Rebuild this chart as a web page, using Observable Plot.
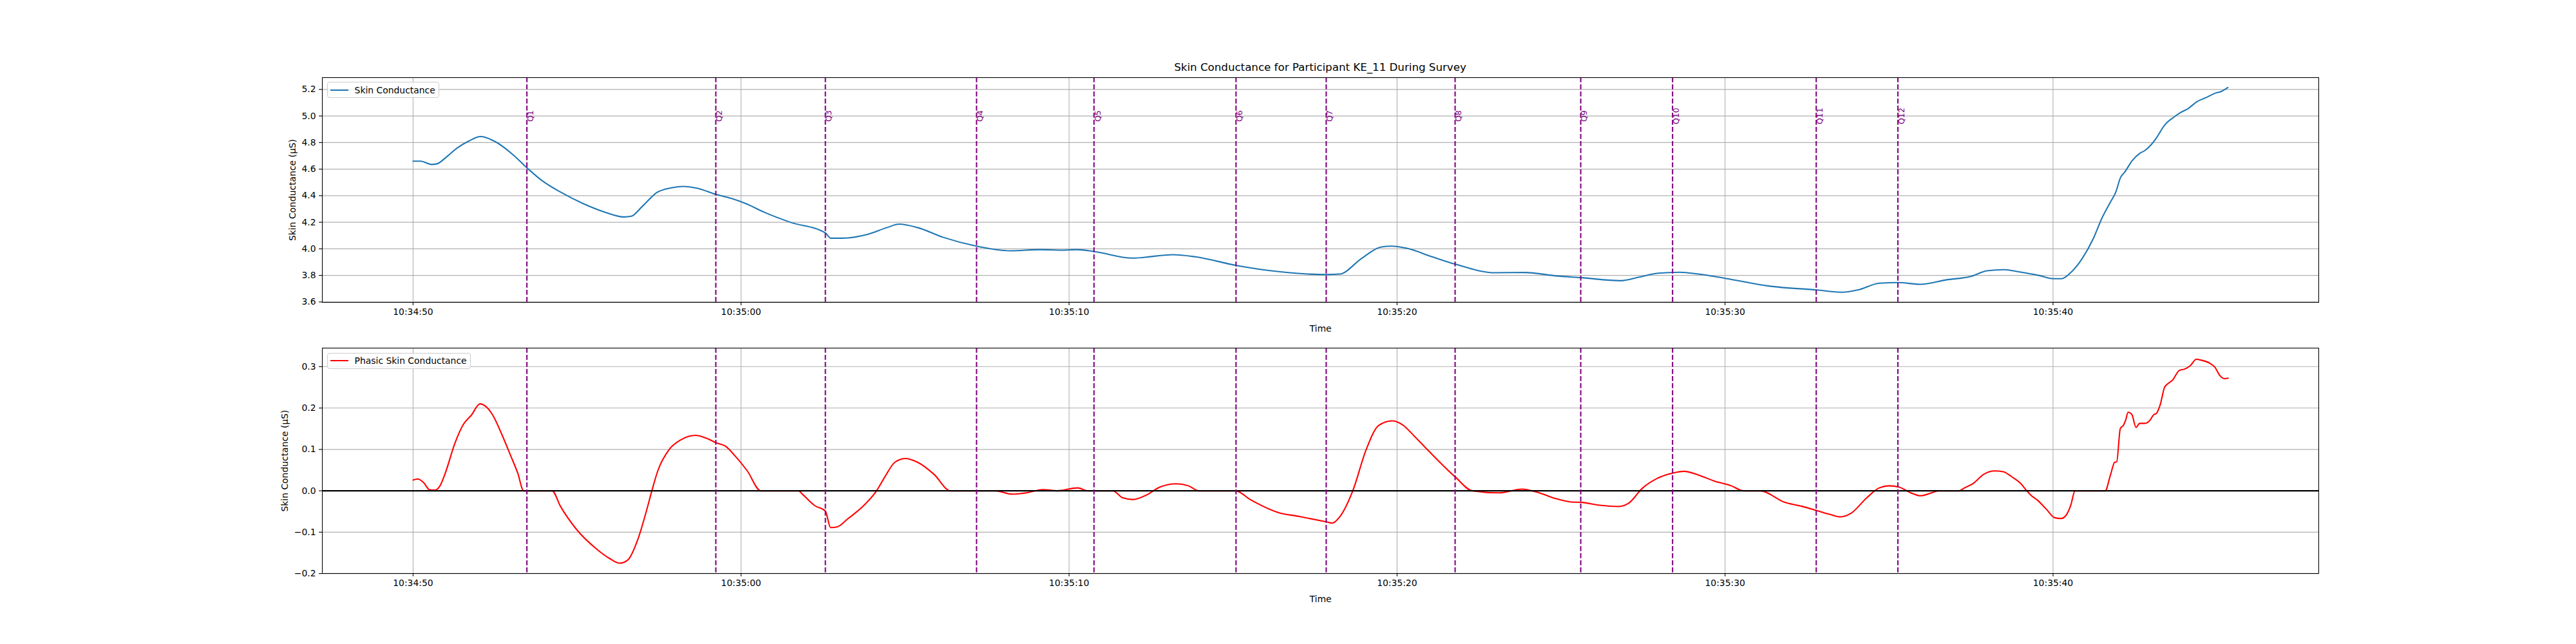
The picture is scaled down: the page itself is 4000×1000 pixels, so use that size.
<!DOCTYPE html>
<html>
<head>
<meta charset="utf-8">
<script src="https://cdn.jsdelivr.net/npm/d3@7"></script>
<script src="https://cdn.jsdelivr.net/npm/@observablehq/plot@0.6"></script>
<style>
  html, body { margin: 0; padding: 0; background: #fff; }
  #page { position: relative; width: 4000px; height: 1000px; font-family: "DejaVu Sans", sans-serif; color: #000; overflow: hidden; }
  .title { position: absolute; left: 500px; width: 3100px; top: 95px; text-align: center; font-size: 16.67px; line-height: normal; white-space: nowrap; }
  .chart { position: absolute; left: 0; }
  .legend { position: absolute; left: 507.6px; height: 25px; border: 1.1px solid #cccccc; border-radius: 4px;
            background: rgba(255,255,255,0.8); box-sizing: border-box; display: flex; align-items: center;
            font-size: 13.9px; white-space: nowrap; }
  .legend .swatch { display: inline-block; width: 28px; height: 2.1px; margin-left: 4px; margin-right: 10px; }
</style>
</head>
<body>
<div id="page">
  <div class="title">Skin Conductance for Participant KE_11 During Survey</div>
  <div class="chart" id="top" style="top:0px"></div>
  <div class="chart" id="bottom" style="top:520px"></div>
  <div class="legend" style="top:127.3px;width:174.4px"><span class="swatch" style="background:#1f77b4"></span>Skin Conductance</div>
  <div class="legend" style="top:547.5px;width:223.4px"><span class="swatch" style="background:red"></span>Phasic Skin Conductance</div>
</div>
<script>
// ---- Data (seconds after 10:34:50) ----
const scSeconds = [0.00,0.23,0.56,0.73,1.01,1.35,1.69,2.06,2.48,3.04,3.47,3.95,4.51,5.19,5.86,6.43,6.65,6.99,7.44,7.89,8.23,8.68,9.23,9.70,10.15,10.71,11.50,12.57,12.74,13.08,13.87,14.45,14.82,15.38,16.17,17.18,18.21,19.11,19.79,20.24,20.76,21.93,23.17,23.85,25.10,26.44,27.86,28.25,28.93,29.50,29.84,30.28,31.07,31.78,32.99,33.89,34.90,35.60,36.82,37.38,37.95,38.62,39.19,40.00,41.33,42.80,43.59,44.04,44.71,45.29,45.95,46.74,47.53,47.98,48.51,48.95,49.56,50.00,50.26,50.53,50.88,51.23,51.49,51.75,51.91,52.06,52.19,52.41,52.65,52.80,52.98,53.16,53.40,53.68,53.90,54.12,54.38,54.65,54.95,55.13,55.33];
const scValues = [4.66,4.66,4.635,4.64,4.69,4.76,4.81,4.845,4.81,4.71,4.61,4.51,4.425,4.34,4.275,4.24,4.245,4.32,4.425,4.46,4.47,4.455,4.41,4.38,4.34,4.275,4.20,4.12,4.08,4.08,4.11,4.16,4.186,4.16,4.086,4.02,3.985,3.994,3.99,3.994,3.98,3.93,3.956,3.94,3.875,3.827,3.806,3.81,3.93,4.013,4.02,4.005,3.94,3.884,3.82,3.822,3.795,3.783,3.76,3.787,3.816,3.824,3.81,3.778,3.72,3.69,3.673,3.69,3.741,3.746,3.733,3.766,3.795,3.835,3.843,3.827,3.80,3.775,3.775,3.819,3.924,4.078,4.231,4.352,4.425,4.538,4.579,4.663,4.72,4.74,4.781,4.838,4.931,4.991,5.028,5.056,5.107,5.137,5.172,5.185,5.214];

const phasicSeconds = [0.00,0.14,0.32,0.50,0.67,0.82,0.97,1.28,1.53,1.78,2.04,2.23,2.45,2.68,2.98,3.19,3.37,4.24,4.49,4.99,5.60,6.00,6.30,6.55,6.85,7.11,7.28,7.46,7.81,8.16,8.61,8.91,9.24,9.52,9.82,10.19,10.60,11.75,11.88,12.25,12.57,12.73,12.94,13.25,13.75,14.13,14.38,14.69,15.01,15.38,15.88,16.38,17.76,18.26,18.76,19.20,19.64,20.26,20.58,21.33,21.64,21.95,22.39,22.77,23.27,23.64,23.95,25.08,25.52,26.40,27.02,27.84,28.02,28.27,28.65,29.06,29.44,29.85,30.16,30.54,30.98,31.78,32.29,33.11,33.80,34.30,34.80,35.30,35.63,36.18,36.74,37.06,37.49,37.93,38.42,38.75,39.19,39.69,40.19,40.56,41.07,41.82,42.32,42.81,43.20,43.51,43.83,44.32,44.70,45.01,45.30,45.64,45.95,46.33,46.51,47.14,47.30,47.57,47.89,48.22,48.48,48.74,49.01,49.20,49.33,49.53,49.79,50.05,50.25,50.38,50.54,50.67,51.59,51.75,51.88,51.94,52.05,52.15,52.21,52.29,52.40,52.53,52.64,52.80,52.95,53.06,53.16,53.26,53.40,53.49,53.65,53.85,54.01,54.18,54.37,54.50,54.76,54.93,55.09,55.22,55.34];
const phasicValues = [0.026,0.0285,0.02,0.0026,0.0015,0.012,0.04,0.116,0.16,0.183,0.21,0.203,0.18,0.141,0.084,0.043,0.0,0.0,-0.037,-0.094,-0.141,-0.164,-0.175,-0.167,-0.118,-0.05,0.0,0.048,0.10,0.123,0.134,0.128,0.116,0.108,0.084,0.048,0.0,0.0,-0.009,-0.036,-0.049,-0.089,-0.087,-0.068,-0.035,0.0,0.033,0.069,0.078,0.069,0.040,0.0,0.0,-0.008,-0.004,0.003,0.0,0.007,0.0,0.0,-0.017,-0.021,-0.009,0.009,0.017,0.012,0.0,0.0,-0.021,-0.053,-0.062,-0.075,-0.078,-0.061,0.0,0.100,0.158,0.169,0.16,0.131,0.095,0.033,0.0,-0.005,0.004,-0.004,-0.018,-0.027,-0.028,-0.035,-0.038,-0.030,0.007,0.030,0.043,0.047,0.038,0.023,0.012,0.0,0.0,-0.028,-0.037,-0.048,-0.057,-0.063,-0.055,-0.017,0.007,0.012,0.009,-0.004,-0.012,-0.004,0.0,0.0,0.007,0.018,0.040,0.048,0.046,0.034,0.018,0.0,-0.011,-0.023,-0.044,-0.065,-0.067,-0.061,-0.035,0.0,0.0,0.038,0.069,0.07,0.15,0.159,0.17,0.19,0.185,0.153,0.163,0.163,0.17,0.183,0.188,0.206,0.25,0.258,0.268,0.291,0.294,0.302,0.318,0.316,0.309,0.299,0.278,0.271,0.272];

const questionLabels = ["Q1","Q2","Q3","Q4","Q5","Q6","Q7","Q8","Q9","Q10","Q11","Q12"];
const questionSeconds = [3.47,9.23,12.57,17.18,20.76,25.09,27.84,31.77,35.60,38.40,42.78,45.27];

const xTickSeconds = [0,10,20,30,40,50];
const scTicks = [3.6,3.8,4.0,4.2,4.4,4.6,4.8,5.0,5.2];
const phasicTicks = [-0.2,-0.1,0.0,0.1,0.2,0.3];

// ---- Build ----
const BASE = Date.UTC(2024, 0, 1, 10, 34, 50);
const toDate = s => new Date(BASE + s * 1000);
const scData = scSeconds.map((s, i) => ({time: toDate(s), value: scValues[i]}));
const phasicData = phasicSeconds.map((s, i) => ({time: toDate(s), value: phasicValues[i]}));
const questions = questionSeconds.map((s, i) => ({time: toDate(s), label: questionLabels[i]}));
const xTicks = xTickSeconds.map(toDate);
const xDomain = [toDate(-2.767), toDate(58.10)];
const fmtTime = d3.utcFormat("%H:%M:%S");
const fmtY = d3.format(".1f");

const style = {fontFamily: "DejaVu Sans", fontSize: "13.9px", color: "black", background: "transparent", overflow: "visible"};
const gridStyle = {stroke: "#b0b0b0", strokeOpacity: 1, strokeWidth: 1.1};
const qRule = Plot.ruleX(questions, {x: "time", stroke: "purple", strokeWidth: 2.08, strokeDasharray: "7.7,3.3"});

const topChart = Plot.plot({
  width: 4000, height: 520,
  marginLeft: 500, marginRight: 400, marginTop: 120, marginBottom: 51,
  style,
  x: {type: "utc", domain: xDomain},
  y: {domain: [3.597, 5.289]},
  marks: [
    Plot.gridX({ticks: xTicks, ...gridStyle}),
    Plot.gridY({ticks: scTicks, ...gridStyle}),
    Plot.line(scData, {x: "time", y: "value", stroke: "#1f77b4", strokeWidth: 2.08, curve: "monotone-x"}),
    qRule,
    Plot.text(questions, {x: "time", y: () => 5.0, text: "label", rotate: -90, fill: "purple", fontSize: 12.5,
      textAnchor: "middle", lineAnchor: "top", dx: 1}),
    Plot.frame({stroke: "black", strokeWidth: 1.1}),
    Plot.axisX({ticks: xTicks, tickFormat: fmtTime, tickSize: 4.9, tickPadding: 5, strokeWidth: 1.1,
      label: "Time", labelAnchor: "center", labelArrow: "none", labelOffset: 45}),
    Plot.axisY({ticks: scTicks, tickFormat: fmtY, tickSize: 4.9, tickPadding: 5, strokeWidth: 1.1,
      label: "Skin Conductance (µS)", labelAnchor: "center", labelArrow: "none", labelOffset: 51})
  ]
});
document.getElementById("top").appendChild(topChart);

const bottomChart = Plot.plot({
  width: 4000, height: 480,
  marginLeft: 500, marginRight: 400, marginTop: 20, marginBottom: 110,
  style,
  x: {type: "utc", domain: xDomain},
  y: {domain: [-0.1998, 0.3448]},
  marks: [
    Plot.gridX({ticks: xTicks, ...gridStyle}),
    Plot.gridY({ticks: phasicTicks, ...gridStyle}),
    Plot.line(phasicData, {x: "time", y: "value", stroke: "red", strokeWidth: 2.08, curve: "monotone-x"}),
    Plot.ruleY([0], {stroke: "black", strokeWidth: 2.4}),
    qRule,
    Plot.frame({stroke: "black", strokeWidth: 1.1}),
    Plot.axisX({ticks: xTicks, tickFormat: fmtTime, tickSize: 4.9, tickPadding: 5, strokeWidth: 1.1,
      label: "Time", labelAnchor: "center", labelArrow: "none", labelOffset: 44.5}),
    Plot.axisY({ticks: phasicTicks, tickFormat: fmtY, tickSize: 4.9, tickPadding: 5, strokeWidth: 1.1,
      label: "Skin Conductance (µS)", labelAnchor: "center", labelArrow: "none", labelOffset: 63.5})
  ]
});
document.getElementById("bottom").appendChild(bottomChart);
</script>
</body>
</html>
